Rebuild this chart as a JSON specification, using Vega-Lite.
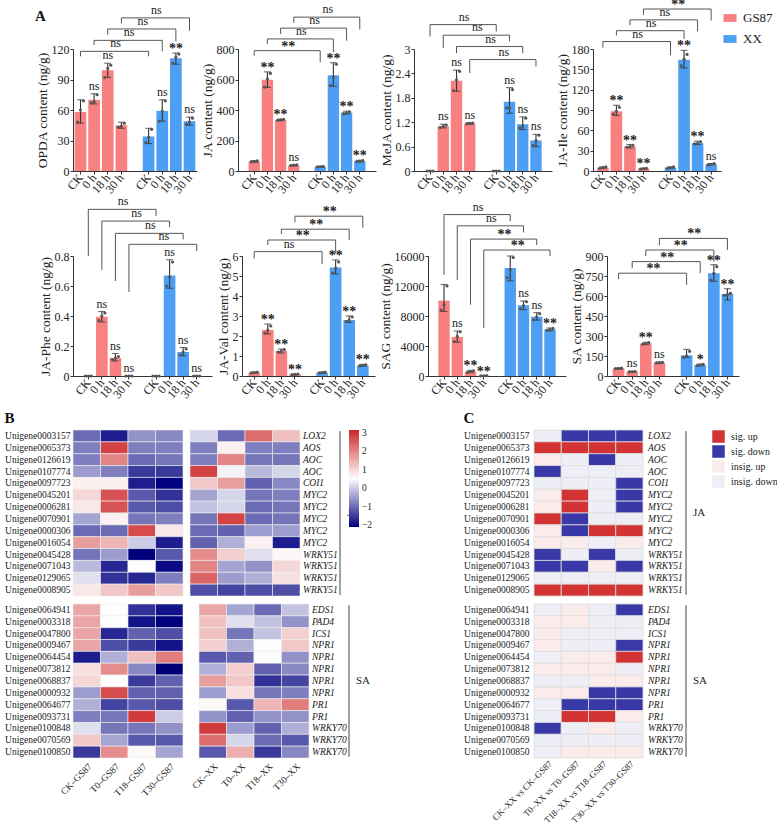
{
"$schema":"https://vega.github.io/schema/vega-lite/v6.json",
"padding":{"left":4,"top":-2,"right":2,"bottom":0},
"background":"white",
"config":{"font":"Liberation Serif","view":{"stroke":null},
"axis":{"labelFont":"Liberation Serif","titleFont":"Liberation Serif","labelColor":"#222","titleColor":"#222","domainColor":"#333","tickColor":"#333","titleFontWeight":"normal","grid":false,"labelFontSize":12,"titleFontSize":13.5},
"legend":{"labelFont":"Liberation Serif","labelColor":"#222"},
"title":{"font":"Liberation Serif","fontSize":15,"fontWeight":"bold","anchor":"start","color":"#111"}},
"datasets":{
"b1":[{"k":"GS87|CK","g":"GS87","mean":58,"lo":47,"hi":70,"r1":48,"r2":60,"r3":69,"sig":""},{"k":"GS87|0 h","g":"GS87","mean":70,"lo":66,"hi":76,"r1":67,"r2":68,"r3":75,"sig":"ns"},{"k":"GS87|18 h","g":"GS87","mean":99,"lo":92,"hi":106,"r1":92,"r2":101,"r3":104,"sig":"ns"},{"k":"GS87|30 h","g":"GS87","mean":45,"lo":42,"hi":48,"r1":43,"r2":44,"r3":47,"sig":""},{"k":"XX|CK","g":"XX","mean":34,"lo":27,"hi":42,"r1":28,"r2":33,"r3":41,"sig":""},{"k":"XX|0 h","g":"XX","mean":59,"lo":49,"hi":70,"r1":49,"r2":59,"r3":69,"sig":"ns"},{"k":"XX|18 h","g":"XX","mean":111,"lo":105,"hi":116,"r1":106,"r2":112,"r3":115,"sig":"**"},{"k":"XX|30 h","g":"XX","mean":49,"lo":45,"hi":53,"r1":46,"r2":48,"r3":52,"sig":"ns"}],
"k1":[{"a":"GS87|CK","b":"XX|CK","m":"GS87|30 h","top":117.7,"yl":112.8,"yr":112.8,"lab":"ns"},{"a":"GS87|0 h","b":"XX|0 h","m":"gap","top":128.5,"yl":124,"yr":117.7,"lab":"ns"},{"a":"GS87|18 h","b":"XX|18 h","m":"XX|CK","top":139.7,"yl":134,"yr":127.6,"lab":"ns"},{"a":"GS87|30 h","b":"XX|30 h","m":"XX|0 h","top":150.6,"yl":145,"yr":138,"lab":"ns"}],
"b2":[{"k":"GS87|CK","g":"GS87","mean":63,"lo":58,"hi":68,"r1":60,"r2":63,"r3":66,"sig":""},{"k":"GS87|0 h","g":"GS87","mean":598,"lo":548,"hi":650,"r1":550,"r2":605,"r3":640,"sig":"**"},{"k":"GS87|18 h","g":"GS87","mean":335,"lo":330,"hi":340,"r1":332,"r2":335,"r3":338,"sig":"**"},{"k":"GS87|30 h","g":"GS87","mean":38,"lo":34,"hi":42,"r1":36,"r2":38,"r3":40,"sig":"ns"},{"k":"XX|CK","g":"XX","mean":28,"lo":24,"hi":32,"r1":26,"r2":28,"r3":30,"sig":""},{"k":"XX|0 h","g":"XX","mean":628,"lo":555,"hi":710,"r1":560,"r2":615,"r3":700,"sig":"**"},{"k":"XX|18 h","g":"XX","mean":382,"lo":374,"hi":392,"r1":376,"r2":380,"r3":388,"sig":"**"},{"k":"XX|30 h","g":"XX","mean":65,"lo":60,"hi":70,"r1":62,"r2":65,"r3":68,"sig":"**"}],
"k2":[{"a":"GS87|CK","b":"XX|CK","m":"GS87|30 h","top":789,"yl":756,"yr":712,"lab":"**"},{"a":"GS87|0 h","b":"XX|0 h","m":"gap","top":866,"yl":833,"yr":778,"lab":"ns"},{"a":"GS87|18 h","b":"XX|18 h","m":"XX|CK","top":937,"yl":899,"yr":855,"lab":"ns"},{"a":"GS87|30 h","b":"XX|30 h","m":"XX|0 h","top":1009,"yl":972,"yr":928,"lab":"ns"}],
"b3":[{"k":"GS87|CK","g":"GS87","mean":0,"lo":0,"hi":0,"r1":0,"r2":0,"r3":0,"sig":""},{"k":"GS87|0 h","g":"GS87","mean":1.1,"lo":1.06,"hi":1.15,"r1":1.07,"r2":1.1,"r3":1.13,"sig":"ns"},{"k":"GS87|18 h","g":"GS87","mean":2.22,"lo":1.96,"hi":2.48,"r1":1.98,"r2":2.24,"r3":2.45,"sig":"ns"},{"k":"GS87|30 h","g":"GS87","mean":1.17,"lo":1.15,"hi":1.19,"r1":1.16,"r2":1.17,"r3":1.18,"sig":"ns"},{"k":"XX|CK","g":"XX","mean":0,"lo":0,"hi":0,"r1":0,"r2":0,"r3":0,"sig":""},{"k":"XX|0 h","g":"XX","mean":1.7,"lo":1.42,"hi":2.05,"r1":1.55,"r2":1.55,"r3":2.0,"sig":"ns"},{"k":"XX|18 h","g":"XX","mean":1.15,"lo":1.02,"hi":1.33,"r1":1.06,"r2":1.1,"r3":1.3,"sig":"ns"},{"k":"XX|30 h","g":"XX","mean":0.75,"lo":0.6,"hi":0.9,"r1":0.63,"r2":0.75,"r3":0.88,"sig":"ns"}],
"k3":[{"a":"GS87|CK","b":"XX|CK","m":"GS87|30 h","top":3.6,"yl":3.31,"yr":3.43,"lab":"ns"},{"a":"GS87|0 h","b":"XX|0 h","m":"gap","top":3.34,"yl":3.02,"yr":3.19,"lab":"ns"},{"a":"GS87|18 h","b":"XX|18 h","m":"XX|CK","top":3.06,"yl":2.9,"yr":2.9,"lab":"ns"},{"a":"GS87|30 h","b":"XX|30 h","m":"XX|0 h","top":2.74,"yl":2.41,"yr":2.57,"lab":"ns"}],
"b4":[{"k":"GS87|CK","g":"GS87","mean":5,"lo":4,"hi":6,"r1":4,"r2":5,"r3":6,"sig":""},{"k":"GS87|0 h","g":"GS87","mean":88,"lo":82,"hi":97,"r1":84,"r2":88,"r3":94,"sig":"**"},{"k":"GS87|18 h","g":"GS87","mean":36,"lo":34,"hi":39,"r1":35,"r2":36,"r3":38,"sig":"**"},{"k":"GS87|30 h","g":"GS87","mean":3.5,"lo":3,"hi":4,"r1":3,"r2":3.5,"r3":4,"sig":"**"},{"k":"XX|CK","g":"XX","mean":5,"lo":4,"hi":6,"r1":4,"r2":5,"r3":6,"sig":""},{"k":"XX|0 h","g":"XX","mean":164,"lo":152,"hi":178,"r1":155,"r2":165,"r3":172,"sig":"**"},{"k":"XX|18 h","g":"XX","mean":41,"lo":39,"hi":44,"r1":40,"r2":41,"r3":43,"sig":"**"},{"k":"XX|30 h","g":"XX","mean":10,"lo":9,"hi":11,"r1":9,"r2":10,"r3":11,"sig":"ns"}],
"k4":[{"a":"GS87|CK","b":"XX|CK","m":"GS87|30 h","top":191,"yl":182,"yr":171,"lab":"ns"},{"a":"GS87|0 h","b":"XX|0 h","m":"gap","top":207,"yl":200,"yr":195,"lab":"ns"},{"a":"GS87|18 h","b":"XX|18 h","m":"XX|CK","top":223,"yl":215,"yr":206,"lab":"ns"},{"a":"GS87|30 h","b":"XX|30 h","m":"XX|0 h","top":239,"yl":230.5,"yr":222,"lab":"**"}],
"b5":[{"k":"GS87|CK","g":"GS87","mean":0,"lo":0,"hi":0,"r1":0,"r2":0,"r3":0,"sig":""},{"k":"GS87|0 h","g":"GS87","mean":0.395,"lo":0.36,"hi":0.43,"r1":0.37,"r2":0.4,"r3":0.42,"sig":"ns"},{"k":"GS87|18 h","g":"GS87","mean":0.12,"lo":0.1,"hi":0.15,"r1":0.11,"r2":0.12,"r3":0.13,"sig":"ns"},{"k":"GS87|30 h","g":"GS87","mean":0,"lo":0,"hi":0,"r1":0,"r2":0,"r3":0,"sig":"ns"},{"k":"XX|CK","g":"XX","mean":0,"lo":0,"hi":0,"r1":0,"r2":0,"r3":0,"sig":""},{"k":"XX|0 h","g":"XX","mean":0.67,"lo":0.585,"hi":0.775,"r1":0.6,"r2":0.66,"r3":0.76,"sig":"ns"},{"k":"XX|18 h","g":"XX","mean":0.16,"lo":0.135,"hi":0.19,"r1":0.14,"r2":0.16,"r3":0.18,"sig":"ns"},{"k":"XX|30 h","g":"XX","mean":0,"lo":0,"hi":0,"r1":0,"r2":0,"r3":0,"sig":"ns"}],
"k5":[{"a":"GS87|CK","b":"XX|CK","m":"GS87|30 h","top":1.111,"yl":0.8,"yr":1.067,"lab":"ns"},{"a":"GS87|0 h","b":"XX|0 h","m":"gap","top":1.033,"yl":0.707,"yr":0.993,"lab":"ns"},{"a":"GS87|18 h","b":"XX|18 h","m":"XX|CK","top":0.951,"yl":0.633,"yr":0.911,"lab":"ns"},{"a":"GS87|30 h","b":"XX|30 h","m":"XX|0 h","top":0.878,"yl":0.56,"yr":0.833,"lab":"ns"}],
"b6":[{"k":"GS87|CK","g":"GS87","mean":0.17,"lo":0.14,"hi":0.2,"r1":0.15,"r2":0.17,"r3":0.19,"sig":""},{"k":"GS87|0 h","g":"GS87","mean":2.3,"lo":2.1,"hi":2.6,"r1":2.15,"r2":2.3,"r3":2.5,"sig":"**"},{"k":"GS87|18 h","g":"GS87","mean":1.25,"lo":1.15,"hi":1.35,"r1":1.2,"r2":1.25,"r3":1.32,"sig":"**"},{"k":"GS87|30 h","g":"GS87","mean":0.08,"lo":0.06,"hi":0.1,"r1":0.06,"r2":0.08,"r3":0.1,"sig":"**"},{"k":"XX|CK","g":"XX","mean":0.17,"lo":0.14,"hi":0.2,"r1":0.15,"r2":0.17,"r3":0.19,"sig":""},{"k":"XX|0 h","g":"XX","mean":5.42,"lo":5.1,"hi":5.8,"r1":5.15,"r2":5.4,"r3":5.7,"sig":"**"},{"k":"XX|18 h","g":"XX","mean":2.8,"lo":2.68,"hi":3.0,"r1":2.72,"r2":2.8,"r3":2.95,"sig":"**"},{"k":"XX|30 h","g":"XX","mean":0.53,"lo":0.5,"hi":0.58,"r1":0.51,"r2":0.53,"r3":0.56,"sig":"**"}],
"k6":[{"a":"GS87|CK","b":"XX|CK","m":"GS87|30 h","top":6.22,"yl":5.88,"yr":5.6,"lab":"ns"},{"a":"GS87|0 h","b":"XX|0 h","m":"gap","top":6.8,"yl":6.55,"yr":6.13,"lab":"**"},{"a":"GS87|18 h","b":"XX|18 h","m":"XX|CK","top":7.34,"yl":7.1,"yr":6.8,"lab":"**"},{"a":"GS87|30 h","b":"XX|30 h","m":"XX|0 h","top":7.99,"yl":7.7,"yr":7.42,"lab":"**"}],
"b7":[{"k":"GS87|CK","g":"GS87","mean":10050,"lo":8600,"hi":12200,"r1":8800,"r2":9500,"r3":12000,"sig":""},{"k":"GS87|0 h","g":"GS87","mean":5200,"lo":4500,"hi":6000,"r1":4600,"r2":5300,"r3":5900,"sig":"ns"},{"k":"GS87|18 h","g":"GS87","mean":580,"lo":450,"hi":750,"r1":480,"r2":600,"r3":700,"sig":"**"},{"k":"GS87|30 h","g":"GS87","mean":30,"lo":20,"hi":40,"r1":20,"r2":30,"r3":40,"sig":"**"},{"k":"XX|CK","g":"XX","mean":14400,"lo":12700,"hi":16000,"r1":13100,"r2":14200,"r3":15800,"sig":""},{"k":"XX|0 h","g":"XX","mean":9450,"lo":8850,"hi":10000,"r1":9000,"r2":9400,"r3":9900,"sig":"ns"},{"k":"XX|18 h","g":"XX","mean":7900,"lo":7450,"hi":8450,"r1":7500,"r2":7900,"r3":8300,"sig":"ns"},{"k":"XX|30 h","g":"XX","mean":6200,"lo":6000,"hi":6400,"r1":6100,"r2":6200,"r3":6350,"sig":"**"}],
"k7":[{"a":"GS87|CK","b":"XX|CK","m":"GS87|30 h","top":21525,"yl":13481,"yr":20641,"lab":"ns"},{"a":"GS87|0 h","b":"XX|0 h","m":"gap","top":20022,"yl":12818,"yr":19138,"lab":"ns"},{"a":"GS87|18 h","b":"XX|18 h","m":"XX|CK","top":18254,"yl":9503,"yr":17464,"lab":"**"},{"a":"GS87|30 h","b":"XX|30 h","m":"XX|0 h","top":16796,"yl":6409,"yr":16000,"lab":"**"}],
"b8":[{"k":"GS87|CK","g":"GS87","mean":57,"lo":54,"hi":60,"r1":55,"r2":57,"r3":59,"sig":""},{"k":"GS87|0 h","g":"GS87","mean":32,"lo":30,"hi":36,"r1":31,"r2":32,"r3":34,"sig":"ns"},{"k":"GS87|18 h","g":"GS87","mean":244,"lo":235,"hi":252,"r1":238,"r2":245,"r3":250,"sig":"**"},{"k":"GS87|30 h","g":"GS87","mean":100,"lo":97,"hi":103,"r1":98,"r2":100,"r3":102,"sig":"ns"},{"k":"XX|CK","g":"XX","mean":155,"lo":140,"hi":200,"r1":140,"r2":150,"r3":185,"sig":""},{"k":"XX|0 h","g":"XX","mean":82,"lo":77,"hi":90,"r1":79,"r2":82,"r3":87,"sig":"*"},{"k":"XX|18 h","g":"XX","mean":770,"lo":710,"hi":835,"r1":720,"r2":770,"r3":820,"sig":"**"},{"k":"XX|30 h","g":"XX","mean":615,"lo":570,"hi":655,"r1":605,"r2":612,"r3":620,"sig":"**"}],
"k8":[{"a":"GS87|CK","b":"XX|CK","m":"GS87|30 h","top":771,"yl":726,"yr":684,"lab":"**"},{"a":"GS87|0 h","b":"XX|0 h","m":"gap","top":858,"yl":808,"yr":771,"lab":"**"},{"a":"GS87|18 h","b":"XX|18 h","m":"XX|CK","top":945,"yl":900,"yr":858,"lab":"**"},{"a":"GS87|30 h","b":"XX|30 h","m":"XX|0 h","top":1032,"yl":980,"yr":945,"lab":"**"}],
"genes":[
{"id":"Unigene0003157","gene":"LOX2","p":"JA","CK–GS87":-1,"T0–GS87":-1.8,"T18–GS87":-0.6,"T30–GS87":-0.7,"CK–XX":0.1,"T0–XX":-1,"T18–XX":2.3,"T30–XX":1.3,"CK–XX vs CK–GS87":"insig. down","T0–XX vs T0–GS87":"sig. down","T18–XX vs T18–GS87":"sig. down","T30–XX vs T30–GS87":"sig. down"},
{"id":"Unigene0065373","gene":"AOS","p":"JA","CK–GS87":-0.8,"T0–GS87":2.8,"T18–GS87":-0.8,"T30–GS87":-0.8,"CK–XX":-0.8,"T0–XX":0.7,"T18–XX":-0.8,"T30–XX":-0.8,"CK–XX vs CK–GS87":"sig. up","T0–XX vs T0–GS87":"sig. up","T18–XX vs T18–GS87":"sig. up","T30–XX vs T30–GS87":"sig. up"},
{"id":"Unigene0126619","gene":"AOC","p":"JA","CK–GS87":-0.8,"T0–GS87":2,"T18–GS87":-1,"T30–GS87":-0.9,"CK–XX":-0.8,"T0–XX":2,"T18–XX":-0.9,"T30–XX":-0.9,"CK–XX vs CK–GS87":"insig. up","T0–XX vs T0–GS87":"insig. down","T18–XX vs T18–GS87":"sig. down","T30–XX vs T30–GS87":"insig. down"},
{"id":"Unigene0107774","gene":"AOC","p":"JA","CK–GS87":-0.5,"T0–GS87":-0.8,"T18–GS87":-1.5,"T30–GS87":-1.5,"CK–XX":2.8,"T0–XX":0.4,"T18–XX":-0.2,"T30–XX":0.1,"CK–XX vs CK–GS87":"sig. down","T0–XX vs T0–GS87":"insig. down","T18–XX vs T18–GS87":"insig. down","T30–XX vs T30–GS87":"insig. down"},
{"id":"Unigene0097723","gene":"COI1","p":"JA","CK–GS87":0.7,"T0–GS87":0.7,"T18–GS87":-1.8,"T30–GS87":-2.1,"CK–XX":1.2,"T0–XX":1.7,"T18–XX":-1.1,"T30–XX":-0.7,"CK–XX vs CK–GS87":"insig. down","T0–XX vs T0–GS87":"insig. down","T18–XX vs T18–GS87":"insig. down","T30–XX vs T30–GS87":"sig. down"},
{"id":"Unigene0045201","gene":"MYC2","p":"JA","CK–GS87":1,"T0–GS87":2.6,"T18–GS87":-1.2,"T30–GS87":-1.6,"CK–XX":-0.4,"T0–XX":0.1,"T18–XX":-0.9,"T30–XX":-0.8,"CK–XX vs CK–GS87":"insig. up","T0–XX vs T0–GS87":"sig. up","T18–XX vs T18–GS87":"insig. down","T30–XX vs T30–GS87":"sig. down"},
{"id":"Unigene0006281","gene":"MYC2","p":"JA","CK–GS87":0.8,"T0–GS87":2.6,"T18–GS87":-1.2,"T30–GS87":-1.3,"CK–XX":-0.1,"T0–XX":0.1,"T18–XX":-1,"T30–XX":-0.9,"CK–XX vs CK–GS87":"insig. up","T0–XX vs T0–GS87":"sig. up","T18–XX vs T18–GS87":"insig. down","T30–XX vs T30–GS87":"sig. down"},
{"id":"Unigene0070901","gene":"MYC2","p":"JA","CK–GS87":-0.4,"T0–GS87":0.7,"T18–GS87":-0.9,"T30–GS87":-0.8,"CK–XX":-0.9,"T0–XX":2.8,"T18–XX":-1,"T30–XX":-0.9,"CK–XX vs CK–GS87":"sig. up","T0–XX vs T0–GS87":"sig. down","T18–XX vs T18–GS87":"insig. down","T30–XX vs T30–GS87":"insig. down"},
{"id":"Unigene0000306","gene":"MYC2","p":"JA","CK–GS87":-1,"T0–GS87":-1,"T18–GS87":2.7,"T30–GS87":0.8,"CK–XX":-1,"T0–XX":-1.1,"T18–XX":-0.5,"T30–XX":-0.5,"CK–XX vs CK–GS87":"insig. up","T0–XX vs T0–GS87":"sig. down","T18–XX vs T18–GS87":"sig. up","T30–XX vs T30–GS87":"sig. up"},
{"id":"Unigene0016054","gene":"MYC2","p":"JA","CK–GS87":1.7,"T0–GS87":1.4,"T18–GS87":0,"T30–GS87":-1.8,"CK–XX":-1.1,"T0–XX":-0.3,"T18–XX":0.7,"T30–XX":-1.8,"CK–XX vs CK–GS87":"insig. up","T0–XX vs T0–GS87":"insig. up","T18–XX vs T18–GS87":"insig. down","T30–XX vs T30–GS87":"insig. up"},
{"id":"Unigene0045428","gene":"WRKY51","p":"JA","CK–GS87":-0.9,"T0–GS87":-0.5,"T18–GS87":-2.2,"T30–GS87":-1.2,"CK–XX":1.9,"T0–XX":1.1,"T18–XX":0.2,"T30–XX":0.6,"CK–XX vs CK–GS87":"sig. down","T0–XX vs T0–GS87":"insig. down","T18–XX vs T18–GS87":"sig. down","T30–XX vs T30–GS87":"insig. down"},
{"id":"Unigene0071043","gene":"WRKY51","p":"JA","CK–GS87":-0.2,"T0–GS87":-1.7,"T18–GS87":0.55,"T30–GS87":-2,"CK–XX":2,"T0–XX":-0.4,"T18–XX":-0.6,"T30–XX":1,"CK–XX vs CK–GS87":"sig. down","T0–XX vs T0–GS87":"sig. down","T18–XX vs T18–GS87":"insig. up","T30–XX vs T30–GS87":"sig. down"},
{"id":"Unigene0129065","gene":"WRKY51","p":"JA","CK–GS87":0.2,"T0–GS87":-1.6,"T18–GS87":-1.7,"T30–GS87":-0.8,"CK–XX":2.4,"T0–XX":-0.5,"T18–XX":-0.3,"T30–XX":0.9,"CK–XX vs CK–GS87":"insig. down","T0–XX vs T0–GS87":"insig. down","T18–XX vs T18–GS87":"insig. down","T30–XX vs T30–GS87":"insig. down"},
{"id":"Unigene0008905","gene":"WRKY51","p":"JA","CK–GS87":0.8,"T0–GS87":1.2,"T18–GS87":1.7,"T30–GS87":1.2,"CK–XX":-1.3,"T0–XX":-1.4,"T18–XX":-1.3,"T30–XX":-1.3,"CK–XX vs CK–GS87":"sig. up","T0–XX vs T0–GS87":"sig. up","T18–XX vs T18–GS87":"sig. up","T30–XX vs T30–GS87":"sig. up"},
{"id":"Unigene0064941","gene":"EDS1","p":"SA","CK–GS87":1.6,"T0–GS87":0.5,"T18–GS87":-1.6,"T30–GS87":-1.9,"CK–XX":1.6,"T0–XX":-0.4,"T18–XX":-1,"T30–XX":-0.1,"CK–XX vs CK–GS87":"insig. down","T0–XX vs T0–GS87":"insig. up","T18–XX vs T18–GS87":"insig. down","T30–XX vs T30–GS87":"sig. down"},
{"id":"Unigene0003318","gene":"PAD4","p":"SA","CK–GS87":1.6,"T0–GS87":0.5,"T18–GS87":-1.9,"T30–GS87":-2.2,"CK–XX":1.3,"T0–XX":0.2,"T18–XX":-0.1,"T30–XX":-0.6,"CK–XX vs CK–GS87":"insig. up","T0–XX vs T0–GS87":"insig. up","T18–XX vs T18–GS87":"insig. down","T30–XX vs T30–GS87":"insig. down"},
{"id":"Unigene0047800","gene":"ICS1","p":"SA","CK–GS87":1.6,"T0–GS87":-1.7,"T18–GS87":-1.1,"T30–GS87":-1.3,"CK–XX":1.3,"T0–XX":-0.9,"T18–XX":-0.1,"T30–XX":1.1,"CK–XX vs CK–GS87":"insig. up","T0–XX vs T0–GS87":"insig. down","T18–XX vs T18–GS87":"insig. down","T30–XX vs T30–GS87":"insig. down"},
{"id":"Unigene0009467","gene":"NPR1","p":"SA","CK–GS87":1.6,"T0–GS87":-1.3,"T18–GS87":-1.5,"T30–GS87":-1.9,"CK–XX":1.1,"T0–XX":-0.3,"T18–XX":0.55,"T30–XX":1.2,"CK–XX vs CK–GS87":"insig. up","T0–XX vs T0–GS87":"insig. down","T18–XX vs T18–GS87":"insig. down","T30–XX vs T30–GS87":"sig. down"},
{"id":"Unigene0064454","gene":"NPR1","p":"SA","CK–GS87":-1.8,"T0–GS87":-0.3,"T18–GS87":1.3,"T30–GS87":2.1,"CK–XX":-1.2,"T0–XX":-1.1,"T18–XX":0.55,"T30–XX":-0.6,"CK–XX vs CK–GS87":"insig. down","T0–XX vs T0–GS87":"insig. up","T18–XX vs T18–GS87":"insig. up","T30–XX vs T30–GS87":"sig. up"},
{"id":"Unigene0073812","gene":"NPR1","p":"SA","CK–GS87":0.9,"T0–GS87":1.9,"T18–GS87":-0.7,"T30–GS87":-2.3,"CK–XX":-0.3,"T0–XX":1.1,"T18–XX":-1.1,"T30–XX":-0.7,"CK–XX vs CK–GS87":"insig. up","T0–XX vs T0–GS87":"insig. up","T18–XX vs T18–GS87":"insig. up","T30–XX vs T30–GS87":"insig. down"},
{"id":"Unigene0068837","gene":"NPR1","p":"SA","CK–GS87":1,"T0–GS87":0.5,"T18–GS87":-1.5,"T30–GS87":-1.1,"CK–XX":1.7,"T0–XX":1.2,"T18–XX":-1.6,"T30–XX":-1.4,"CK–XX vs CK–GS87":"insig. down","T0–XX vs T0–GS87":"insig. down","T18–XX vs T18–GS87":"insig. up","T30–XX vs T30–GS87":"insig. up"},
{"id":"Unigene0000932","gene":"NPR1","p":"SA","CK–GS87":-0.5,"T0–GS87":2.7,"T18–GS87":-1.1,"T30–GS87":-1.1,"CK–XX":-0.5,"T0–XX":0.9,"T18–XX":-0.9,"T30–XX":-0.8,"CK–XX vs CK–GS87":"insig. up","T0–XX vs T0–GS87":"insig. up","T18–XX vs T18–GS87":"sig. down","T30–XX vs T30–GS87":"sig. down"},
{"id":"Unigene0064677","gene":"PR1","p":"SA","CK–GS87":-0.3,"T0–GS87":-1.4,"T18–GS87":-1.2,"T30–GS87":-1.3,"CK–XX":0.6,"T0–XX":-1.2,"T18–XX":1.4,"T30–XX":2.1,"CK–XX vs CK–GS87":"insig. down","T0–XX vs T0–GS87":"sig. down","T18–XX vs T18–GS87":"sig. down","T30–XX vs T30–GS87":"sig. down"},
{"id":"Unigene0093731","gene":"PR1","p":"SA","CK–GS87":-0.8,"T0–GS87":-0.9,"T18–GS87":2.9,"T30–GS87":0,"CK–XX":-0.6,"T0–XX":-1.1,"T18–XX":-0.6,"T30–XX":-0.6,"CK–XX vs CK–GS87":"insig. down","T0–XX vs T0–GS87":"sig. up","T18–XX vs T18–GS87":"sig. up","T30–XX vs T30–GS87":"insig. up"},
{"id":"Unigene0100848","gene":"WRKY70","p":"SA","CK–GS87":0.2,"T0–GS87":-0.9,"T18–GS87":-0.9,"T30–GS87":-0.6,"CK–XX":2.9,"T0–XX":-0.5,"T18–XX":-1.1,"T30–XX":-0.3,"CK–XX vs CK–GS87":"sig. down","T0–XX vs T0–GS87":"insig. down","T18–XX vs T18–GS87":"insig. up","T30–XX vs T30–GS87":"insig. down"},
{"id":"Unigene0070569","gene":"WRKY70","p":"SA","CK–GS87":1.2,"T0–GS87":-0.4,"T18–GS87":-1.2,"T30–GS87":-1.2,"CK–XX":2.3,"T0–XX":0.1,"T18–XX":-1,"T30–XX":-1.2,"CK–XX vs CK–GS87":"insig. down","T0–XX vs T0–GS87":"insig. down","T18–XX vs T18–GS87":"insig. down","T30–XX vs T30–GS87":"insig. down"},
{"id":"Unigene0100850","gene":"WRKY70","p":"SA","CK–GS87":-1.5,"T0–GS87":1.9,"T18–GS87":0.6,"T30–GS87":-0.4,"CK–XX":-1.2,"T0–XX":1.5,"T18–XX":-1.5,"T30–XX":-0.7,"CK–XX vs CK–GS87":"insig. down","T0–XX vs T0–GS87":"insig. up","T18–XX vs T18–GS87":"insig. up","T30–XX vs T30–GS87":"insig. up"}
]},
"resolve":{"scale":{"color":"independent"}},
"align":"none",
"spacing":10,
"vconcat":[
{"align":"none","spacing":0,"resolve":{"scale":{"color":"independent"}},"vconcat":[
{"title":{"text":"A","offset":-26},"spacing":3,"resolve":{"scale":{"color":"independent"}},"hconcat":[
{"width":124,"height":122,"data":{"name":"b1"},"layer":[
{"mark":{"type":"bar"},"encoding":{"x":{"field":"k","type":"nominal","scale":{"domain":["GS87|CK","GS87|0 h","GS87|18 h","GS87|30 h","gap","XX|CK","XX|0 h","XX|18 h","XX|30 h"],"paddingInner":0.14,"paddingOuter":0.12},"axis":{"title":null,"labelExpr":"indexof(datum.value,'|')>0 ? split(datum.value,'|')[1] : ''","labelAngle":-50,"labelFontSize":12,"tickSize":3,"tickOpacity":{"condition":{"test":"datum.value==='gap'","value":0},"value":1},"labelPadding":1}},"y":{"field":"mean","type":"quantitative","scale":{"domain":[0,120],"nice":false},"axis":{"title":"OPDA content (ng/g)","values":[0,30,60,90,120],"tickCount":20,"labelExpr":"''+datum.value","labelOverlap":false,"tickSize":3,"labelPadding":1,"titlePadding":2}},"color":{"field":"g","type":"nominal","scale":{"domain":["GS87","XX"],"range":["#F88080","#4C9FF2"]},"legend":null}}},
{"mark":{"type":"rule","color":"#333","strokeWidth":1.1},"encoding":{"x":{"field":"k","type":"nominal"},"y":{"field":"lo","type":"quantitative"},"y2":{"field":"hi"}}},
{"mark":{"type":"tick","color":"#333","thickness":1.1,"size":7},"encoding":{"x":{"field":"k","type":"nominal"},"y":{"field":"lo","type":"quantitative"}}},
{"mark":{"type":"tick","color":"#333","thickness":1.1,"size":7},"encoding":{"x":{"field":"k","type":"nominal"},"y":{"field":"hi","type":"quantitative"}}},
{"mark":{"type":"circle","size":10,"color":"#555","opacity":1,"xOffset":-3},"encoding":{"x":{"field":"k","type":"nominal"},"y":{"field":"r1","type":"quantitative"}}},
{"mark":{"type":"circle","size":10,"color":"#555","opacity":1},"encoding":{"x":{"field":"k","type":"nominal"},"y":{"field":"r2","type":"quantitative"}}},
{"mark":{"type":"circle","size":10,"color":"#555","opacity":1,"xOffset":3},"encoding":{"x":{"field":"k","type":"nominal"},"y":{"field":"r3","type":"quantitative"}}},
{"transform":[{"filter":"datum.sig==='ns'"}],"mark":{"type":"text","baseline":"bottom","dy":-1,"fontSize":12,"color":"#222"},"encoding":{"x":{"field":"k","type":"nominal"},"y":{"field":"hi","type":"quantitative"},"text":{"field":"sig"}}},
{"transform":[{"filter":"datum.sig!=='ns'"}],"mark":{"type":"text","baseline":"bottom","dy":3,"fontSize":14,"fontWeight":"bold","color":"#222"},"encoding":{"x":{"field":"k","type":"nominal"},"y":{"field":"hi","type":"quantitative"},"text":{"field":"sig"}}},
{"data":{"name":"k1"},"mark":{"type":"rule","color":"#555","clip":false},"encoding":{"x":{"field":"a","type":"nominal","bandPosition":0.5},"x2":{"field":"b","bandPosition":0.5},"y":{"field":"top","type":"quantitative"}}},
{"data":{"name":"k1"},"mark":{"type":"rule","color":"#555","clip":false},"encoding":{"x":{"field":"a","type":"nominal"},"y":{"field":"top","type":"quantitative"},"y2":{"field":"yl"}}},
{"data":{"name":"k1"},"mark":{"type":"rule","color":"#555","clip":false},"encoding":{"x":{"field":"b","type":"nominal"},"y":{"field":"top","type":"quantitative"},"y2":{"field":"yr"}}},
{"data":{"name":"k1"},"transform":[{"filter":"datum.lab==='ns'"}],"mark":{"type":"text","baseline":"bottom","dy":-1,"fontSize":12,"color":"#222"},"encoding":{"x":{"field":"m","type":"nominal","bandPosition":0},"y":{"field":"top","type":"quantitative"},"text":{"field":"lab"}}},
{"data":{"name":"k1"},"transform":[{"filter":"datum.lab!=='ns'"}],"mark":{"type":"text","baseline":"bottom","dy":3,"fontSize":14,"fontWeight":"bold","color":"#222"},"encoding":{"x":{"field":"m","type":"nominal","bandPosition":0},"y":{"field":"top","type":"quantitative"},"text":{"field":"lab"}}}
]},
{"width":138,"height":122,"data":{"name":"b2"},"layer":[
{"mark":{"type":"bar"},"encoding":{"x":{"field":"k","type":"nominal","scale":{"domain":["GS87|CK","GS87|0 h","GS87|18 h","GS87|30 h","gap","XX|CK","XX|0 h","XX|18 h","XX|30 h"],"paddingInner":0.14,"paddingOuter":0.8},"axis":{"title":null,"labelExpr":"indexof(datum.value,'|')>0 ? split(datum.value,'|')[1] : ''","labelAngle":-50,"labelFontSize":12,"tickSize":3,"tickOpacity":{"condition":{"test":"datum.value==='gap'","value":0},"value":1},"labelPadding":1}},"y":{"field":"mean","type":"quantitative","scale":{"domain":[0,800],"nice":false},"axis":{"title":"JA content (ng/g)","values":[0,200,400,600,800],"tickCount":20,"labelExpr":"''+datum.value","labelOverlap":false,"tickSize":3,"labelPadding":1,"titlePadding":2}},"color":{"field":"g","type":"nominal","scale":{"domain":["GS87","XX"],"range":["#F88080","#4C9FF2"]},"legend":null}}},
{"mark":{"type":"rule","color":"#333","strokeWidth":1.1},"encoding":{"x":{"field":"k","type":"nominal"},"y":{"field":"lo","type":"quantitative"},"y2":{"field":"hi"}}},
{"mark":{"type":"tick","color":"#333","thickness":1.1,"size":7},"encoding":{"x":{"field":"k","type":"nominal"},"y":{"field":"lo","type":"quantitative"}}},
{"mark":{"type":"tick","color":"#333","thickness":1.1,"size":7},"encoding":{"x":{"field":"k","type":"nominal"},"y":{"field":"hi","type":"quantitative"}}},
{"mark":{"type":"circle","size":10,"color":"#555","opacity":1,"xOffset":-3},"encoding":{"x":{"field":"k","type":"nominal"},"y":{"field":"r1","type":"quantitative"}}},
{"mark":{"type":"circle","size":10,"color":"#555","opacity":1},"encoding":{"x":{"field":"k","type":"nominal"},"y":{"field":"r2","type":"quantitative"}}},
{"mark":{"type":"circle","size":10,"color":"#555","opacity":1,"xOffset":3},"encoding":{"x":{"field":"k","type":"nominal"},"y":{"field":"r3","type":"quantitative"}}},
{"transform":[{"filter":"datum.sig==='ns'"}],"mark":{"type":"text","baseline":"bottom","dy":-1,"fontSize":12,"color":"#222"},"encoding":{"x":{"field":"k","type":"nominal"},"y":{"field":"hi","type":"quantitative"},"text":{"field":"sig"}}},
{"transform":[{"filter":"datum.sig!=='ns'"}],"mark":{"type":"text","baseline":"bottom","dy":3,"fontSize":14,"fontWeight":"bold","color":"#222"},"encoding":{"x":{"field":"k","type":"nominal"},"y":{"field":"hi","type":"quantitative"},"text":{"field":"sig"}}},
{"data":{"name":"k2"},"mark":{"type":"rule","color":"#555","clip":false},"encoding":{"x":{"field":"a","type":"nominal","bandPosition":0.5},"x2":{"field":"b","bandPosition":0.5},"y":{"field":"top","type":"quantitative"}}},
{"data":{"name":"k2"},"mark":{"type":"rule","color":"#555","clip":false},"encoding":{"x":{"field":"a","type":"nominal"},"y":{"field":"top","type":"quantitative"},"y2":{"field":"yl"}}},
{"data":{"name":"k2"},"mark":{"type":"rule","color":"#555","clip":false},"encoding":{"x":{"field":"b","type":"nominal"},"y":{"field":"top","type":"quantitative"},"y2":{"field":"yr"}}},
{"data":{"name":"k2"},"transform":[{"filter":"datum.lab==='ns'"}],"mark":{"type":"text","baseline":"bottom","dy":-1,"fontSize":12,"color":"#222"},"encoding":{"x":{"field":"m","type":"nominal","bandPosition":0},"y":{"field":"top","type":"quantitative"},"text":{"field":"lab"}}},
{"data":{"name":"k2"},"transform":[{"filter":"datum.lab!=='ns'"}],"mark":{"type":"text","baseline":"bottom","dy":3,"fontSize":14,"fontWeight":"bold","color":"#222"},"encoding":{"x":{"field":"m","type":"nominal","bandPosition":0},"y":{"field":"top","type":"quantitative"},"text":{"field":"lab"}}}
]},
{"width":138,"height":122,"data":{"name":"b3"},"layer":[
{"mark":{"type":"bar"},"encoding":{"x":{"field":"k","type":"nominal","scale":{"domain":["GS87|CK","GS87|0 h","GS87|18 h","GS87|30 h","gap","XX|CK","XX|0 h","XX|18 h","XX|30 h"],"paddingInner":0.14,"paddingOuter":0.78},"axis":{"title":null,"labelExpr":"indexof(datum.value,'|')>0 ? split(datum.value,'|')[1] : ''","labelAngle":-50,"labelFontSize":12,"tickSize":3,"tickOpacity":{"condition":{"test":"datum.value==='gap'","value":0},"value":1},"labelPadding":1}},"y":{"field":"mean","type":"quantitative","scale":{"domain":[0,3],"nice":false},"axis":{"title":"MeJA content (ng/g)","values":[0,0.6,1.2,1.8,2.4,3],"tickCount":20,"labelExpr":"''+datum.value","labelOverlap":false,"tickSize":3,"labelPadding":1,"titlePadding":2}},"color":{"field":"g","type":"nominal","scale":{"domain":["GS87","XX"],"range":["#F88080","#4C9FF2"]},"legend":null}}},
{"mark":{"type":"rule","color":"#333","strokeWidth":1.1},"encoding":{"x":{"field":"k","type":"nominal"},"y":{"field":"lo","type":"quantitative"},"y2":{"field":"hi"}}},
{"mark":{"type":"tick","color":"#333","thickness":1.1,"size":7},"encoding":{"x":{"field":"k","type":"nominal"},"y":{"field":"lo","type":"quantitative"}}},
{"mark":{"type":"tick","color":"#333","thickness":1.1,"size":7},"encoding":{"x":{"field":"k","type":"nominal"},"y":{"field":"hi","type":"quantitative"}}},
{"mark":{"type":"circle","size":10,"color":"#555","opacity":1,"xOffset":-3},"encoding":{"x":{"field":"k","type":"nominal"},"y":{"field":"r1","type":"quantitative"}}},
{"mark":{"type":"circle","size":10,"color":"#555","opacity":1},"encoding":{"x":{"field":"k","type":"nominal"},"y":{"field":"r2","type":"quantitative"}}},
{"mark":{"type":"circle","size":10,"color":"#555","opacity":1,"xOffset":3},"encoding":{"x":{"field":"k","type":"nominal"},"y":{"field":"r3","type":"quantitative"}}},
{"transform":[{"filter":"datum.sig==='ns'"}],"mark":{"type":"text","baseline":"bottom","dy":-1,"fontSize":12,"color":"#222"},"encoding":{"x":{"field":"k","type":"nominal"},"y":{"field":"hi","type":"quantitative"},"text":{"field":"sig"}}},
{"transform":[{"filter":"datum.sig!=='ns'"}],"mark":{"type":"text","baseline":"bottom","dy":3,"fontSize":14,"fontWeight":"bold","color":"#222"},"encoding":{"x":{"field":"k","type":"nominal"},"y":{"field":"hi","type":"quantitative"},"text":{"field":"sig"}}},
{"data":{"name":"k3"},"mark":{"type":"rule","color":"#555","clip":false},"encoding":{"x":{"field":"a","type":"nominal","bandPosition":0.5},"x2":{"field":"b","bandPosition":0.5},"y":{"field":"top","type":"quantitative"}}},
{"data":{"name":"k3"},"mark":{"type":"rule","color":"#555","clip":false},"encoding":{"x":{"field":"a","type":"nominal"},"y":{"field":"top","type":"quantitative"},"y2":{"field":"yl"}}},
{"data":{"name":"k3"},"mark":{"type":"rule","color":"#555","clip":false},"encoding":{"x":{"field":"b","type":"nominal"},"y":{"field":"top","type":"quantitative"},"y2":{"field":"yr"}}},
{"data":{"name":"k3"},"transform":[{"filter":"datum.lab==='ns'"}],"mark":{"type":"text","baseline":"bottom","dy":-1,"fontSize":12,"color":"#222"},"encoding":{"x":{"field":"m","type":"nominal","bandPosition":0},"y":{"field":"top","type":"quantitative"},"text":{"field":"lab"}}},
{"data":{"name":"k3"},"transform":[{"filter":"datum.lab!=='ns'"}],"mark":{"type":"text","baseline":"bottom","dy":3,"fontSize":14,"fontWeight":"bold","color":"#222"},"encoding":{"x":{"field":"m","type":"nominal","bandPosition":0},"y":{"field":"top","type":"quantitative"},"text":{"field":"lab"}}}
]},
{"width":128,"height":122,"data":{"name":"b4"},"layer":[
{"mark":{"type":"bar"},"encoding":{"x":{"field":"k","type":"nominal","scale":{"domain":["GS87|CK","GS87|0 h","GS87|18 h","GS87|30 h","gap","XX|CK","XX|0 h","XX|18 h","XX|30 h"],"paddingInner":0.14,"paddingOuter":0.3},"axis":{"title":null,"labelExpr":"indexof(datum.value,'|')>0 ? split(datum.value,'|')[1] : ''","labelAngle":-50,"labelFontSize":12,"tickSize":3,"tickOpacity":{"condition":{"test":"datum.value==='gap'","value":0},"value":1},"labelPadding":1}},"y":{"field":"mean","type":"quantitative","scale":{"domain":[0,180],"nice":false},"axis":{"title":"JA-Ile content (ng/g)","values":[0,30,60,90,120,150,180],"tickCount":20,"labelExpr":"''+datum.value","labelOverlap":false,"tickSize":3,"labelPadding":1,"titlePadding":2}},"color":{"field":"g","type":"nominal","scale":{"domain":["GS87","XX"],"range":["#F88080","#4C9FF2"]},"legend":{"title":null,"orient":"none","legendX":130,"legendY":-38,"direction":"vertical","symbolType":"M-1,-0.6H1V0.6H-1Z","symbolSize":170,"labelFontSize":13,"rowPadding":7,"labelOffset":6,"symbolStrokeWidth":0}}}},
{"mark":{"type":"rule","color":"#333","strokeWidth":1.1},"encoding":{"x":{"field":"k","type":"nominal"},"y":{"field":"lo","type":"quantitative"},"y2":{"field":"hi"}}},
{"mark":{"type":"tick","color":"#333","thickness":1.1,"size":7},"encoding":{"x":{"field":"k","type":"nominal"},"y":{"field":"lo","type":"quantitative"}}},
{"mark":{"type":"tick","color":"#333","thickness":1.1,"size":7},"encoding":{"x":{"field":"k","type":"nominal"},"y":{"field":"hi","type":"quantitative"}}},
{"mark":{"type":"circle","size":10,"color":"#555","opacity":1,"xOffset":-3},"encoding":{"x":{"field":"k","type":"nominal"},"y":{"field":"r1","type":"quantitative"}}},
{"mark":{"type":"circle","size":10,"color":"#555","opacity":1},"encoding":{"x":{"field":"k","type":"nominal"},"y":{"field":"r2","type":"quantitative"}}},
{"mark":{"type":"circle","size":10,"color":"#555","opacity":1,"xOffset":3},"encoding":{"x":{"field":"k","type":"nominal"},"y":{"field":"r3","type":"quantitative"}}},
{"transform":[{"filter":"datum.sig==='ns'"}],"mark":{"type":"text","baseline":"bottom","dy":-1,"fontSize":12,"color":"#222"},"encoding":{"x":{"field":"k","type":"nominal"},"y":{"field":"hi","type":"quantitative"},"text":{"field":"sig"}}},
{"transform":[{"filter":"datum.sig!=='ns'"}],"mark":{"type":"text","baseline":"bottom","dy":3,"fontSize":14,"fontWeight":"bold","color":"#222"},"encoding":{"x":{"field":"k","type":"nominal"},"y":{"field":"hi","type":"quantitative"},"text":{"field":"sig"}}},
{"data":{"name":"k4"},"mark":{"type":"rule","color":"#555","clip":false},"encoding":{"x":{"field":"a","type":"nominal","bandPosition":0.5},"x2":{"field":"b","bandPosition":0.5},"y":{"field":"top","type":"quantitative"}}},
{"data":{"name":"k4"},"mark":{"type":"rule","color":"#555","clip":false},"encoding":{"x":{"field":"a","type":"nominal"},"y":{"field":"top","type":"quantitative"},"y2":{"field":"yl"}}},
{"data":{"name":"k4"},"mark":{"type":"rule","color":"#555","clip":false},"encoding":{"x":{"field":"b","type":"nominal"},"y":{"field":"top","type":"quantitative"},"y2":{"field":"yr"}}},
{"data":{"name":"k4"},"transform":[{"filter":"datum.lab==='ns'"}],"mark":{"type":"text","baseline":"bottom","dy":-1,"fontSize":12,"color":"#222"},"encoding":{"x":{"field":"m","type":"nominal","bandPosition":0},"y":{"field":"top","type":"quantitative"},"text":{"field":"lab"}}},
{"data":{"name":"k4"},"transform":[{"filter":"datum.lab!=='ns'"}],"mark":{"type":"text","baseline":"bottom","dy":3,"fontSize":14,"fontWeight":"bold","color":"#222"},"encoding":{"x":{"field":"m","type":"nominal","bandPosition":0},"y":{"field":"top","type":"quantitative"},"text":{"field":"lab"}}}
]}
]},
{"spacing":3,"resolve":{"scale":{"color":"independent"}},"hconcat":[
{"width":139,"height":120,"data":{"name":"b5"},"layer":[
{"mark":{"type":"bar"},"encoding":{"x":{"field":"k","type":"nominal","scale":{"domain":["GS87|CK","GS87|0 h","GS87|18 h","GS87|30 h","gap","XX|CK","XX|0 h","XX|18 h","XX|30 h"],"paddingInner":0.14,"paddingOuter":0.7},"axis":{"title":null,"labelExpr":"indexof(datum.value,'|')>0 ? split(datum.value,'|')[1] : ''","labelAngle":-50,"labelFontSize":12,"tickSize":3,"tickOpacity":{"condition":{"test":"datum.value==='gap'","value":0},"value":1},"labelPadding":1}},"y":{"field":"mean","type":"quantitative","scale":{"domain":[0,0.8],"nice":false},"axis":{"title":"JA-Phe content (ng/g)","values":[0,0.2,0.4,0.6,0.8],"tickCount":20,"labelExpr":"''+datum.value","labelOverlap":false,"tickSize":3,"labelPadding":1,"titlePadding":2}},"color":{"field":"g","type":"nominal","scale":{"domain":["GS87","XX"],"range":["#F88080","#4C9FF2"]},"legend":null}}},
{"mark":{"type":"rule","color":"#333","strokeWidth":1.1},"encoding":{"x":{"field":"k","type":"nominal"},"y":{"field":"lo","type":"quantitative"},"y2":{"field":"hi"}}},
{"mark":{"type":"tick","color":"#333","thickness":1.1,"size":7},"encoding":{"x":{"field":"k","type":"nominal"},"y":{"field":"lo","type":"quantitative"}}},
{"mark":{"type":"tick","color":"#333","thickness":1.1,"size":7},"encoding":{"x":{"field":"k","type":"nominal"},"y":{"field":"hi","type":"quantitative"}}},
{"mark":{"type":"circle","size":10,"color":"#555","opacity":1,"xOffset":-3},"encoding":{"x":{"field":"k","type":"nominal"},"y":{"field":"r1","type":"quantitative"}}},
{"mark":{"type":"circle","size":10,"color":"#555","opacity":1},"encoding":{"x":{"field":"k","type":"nominal"},"y":{"field":"r2","type":"quantitative"}}},
{"mark":{"type":"circle","size":10,"color":"#555","opacity":1,"xOffset":3},"encoding":{"x":{"field":"k","type":"nominal"},"y":{"field":"r3","type":"quantitative"}}},
{"transform":[{"filter":"datum.sig==='ns'"}],"mark":{"type":"text","baseline":"bottom","dy":-1,"fontSize":12,"color":"#222"},"encoding":{"x":{"field":"k","type":"nominal"},"y":{"field":"hi","type":"quantitative"},"text":{"field":"sig"}}},
{"transform":[{"filter":"datum.sig!=='ns'"}],"mark":{"type":"text","baseline":"bottom","dy":3,"fontSize":14,"fontWeight":"bold","color":"#222"},"encoding":{"x":{"field":"k","type":"nominal"},"y":{"field":"hi","type":"quantitative"},"text":{"field":"sig"}}},
{"data":{"name":"k5"},"mark":{"type":"rule","color":"#555","clip":false},"encoding":{"x":{"field":"a","type":"nominal","bandPosition":0.5},"x2":{"field":"b","bandPosition":0.5},"y":{"field":"top","type":"quantitative"}}},
{"data":{"name":"k5"},"mark":{"type":"rule","color":"#555","clip":false},"encoding":{"x":{"field":"a","type":"nominal"},"y":{"field":"top","type":"quantitative"},"y2":{"field":"yl"}}},
{"data":{"name":"k5"},"mark":{"type":"rule","color":"#555","clip":false},"encoding":{"x":{"field":"b","type":"nominal"},"y":{"field":"top","type":"quantitative"},"y2":{"field":"yr"}}},
{"data":{"name":"k5"},"transform":[{"filter":"datum.lab==='ns'"}],"mark":{"type":"text","baseline":"bottom","dy":-1,"fontSize":12,"color":"#222"},"encoding":{"x":{"field":"m","type":"nominal","bandPosition":0},"y":{"field":"top","type":"quantitative"},"text":{"field":"lab"}}},
{"data":{"name":"k5"},"transform":[{"filter":"datum.lab!=='ns'"}],"mark":{"type":"text","baseline":"bottom","dy":3,"fontSize":14,"fontWeight":"bold","color":"#222"},"encoding":{"x":{"field":"m","type":"nominal","bandPosition":0},"y":{"field":"top","type":"quantitative"},"text":{"field":"lab"}}}
]},
{"width":133,"height":120,"data":{"name":"b6"},"layer":[
{"mark":{"type":"bar"},"encoding":{"x":{"field":"k","type":"nominal","scale":{"domain":["GS87|CK","GS87|0 h","GS87|18 h","GS87|30 h","gap","XX|CK","XX|0 h","XX|18 h","XX|30 h"],"paddingInner":0.14,"paddingOuter":0.47},"axis":{"title":null,"labelExpr":"indexof(datum.value,'|')>0 ? split(datum.value,'|')[1] : ''","labelAngle":-50,"labelFontSize":12,"tickSize":3,"tickOpacity":{"condition":{"test":"datum.value==='gap'","value":0},"value":1},"labelPadding":1}},"y":{"field":"mean","type":"quantitative","scale":{"domain":[0,6],"nice":false},"axis":{"title":"JA-Val content (ng/g)","values":[0,1,2,3,4,5,6],"tickCount":20,"labelExpr":"''+datum.value","labelOverlap":false,"tickSize":3,"labelPadding":1,"titlePadding":2}},"color":{"field":"g","type":"nominal","scale":{"domain":["GS87","XX"],"range":["#F88080","#4C9FF2"]},"legend":null}}},
{"mark":{"type":"rule","color":"#333","strokeWidth":1.1},"encoding":{"x":{"field":"k","type":"nominal"},"y":{"field":"lo","type":"quantitative"},"y2":{"field":"hi"}}},
{"mark":{"type":"tick","color":"#333","thickness":1.1,"size":7},"encoding":{"x":{"field":"k","type":"nominal"},"y":{"field":"lo","type":"quantitative"}}},
{"mark":{"type":"tick","color":"#333","thickness":1.1,"size":7},"encoding":{"x":{"field":"k","type":"nominal"},"y":{"field":"hi","type":"quantitative"}}},
{"mark":{"type":"circle","size":10,"color":"#555","opacity":1,"xOffset":-3},"encoding":{"x":{"field":"k","type":"nominal"},"y":{"field":"r1","type":"quantitative"}}},
{"mark":{"type":"circle","size":10,"color":"#555","opacity":1},"encoding":{"x":{"field":"k","type":"nominal"},"y":{"field":"r2","type":"quantitative"}}},
{"mark":{"type":"circle","size":10,"color":"#555","opacity":1,"xOffset":3},"encoding":{"x":{"field":"k","type":"nominal"},"y":{"field":"r3","type":"quantitative"}}},
{"transform":[{"filter":"datum.sig==='ns'"}],"mark":{"type":"text","baseline":"bottom","dy":-1,"fontSize":12,"color":"#222"},"encoding":{"x":{"field":"k","type":"nominal"},"y":{"field":"hi","type":"quantitative"},"text":{"field":"sig"}}},
{"transform":[{"filter":"datum.sig!=='ns'"}],"mark":{"type":"text","baseline":"bottom","dy":3,"fontSize":14,"fontWeight":"bold","color":"#222"},"encoding":{"x":{"field":"k","type":"nominal"},"y":{"field":"hi","type":"quantitative"},"text":{"field":"sig"}}},
{"data":{"name":"k6"},"mark":{"type":"rule","color":"#555","clip":false},"encoding":{"x":{"field":"a","type":"nominal","bandPosition":0.5},"x2":{"field":"b","bandPosition":0.5},"y":{"field":"top","type":"quantitative"}}},
{"data":{"name":"k6"},"mark":{"type":"rule","color":"#555","clip":false},"encoding":{"x":{"field":"a","type":"nominal"},"y":{"field":"top","type":"quantitative"},"y2":{"field":"yl"}}},
{"data":{"name":"k6"},"mark":{"type":"rule","color":"#555","clip":false},"encoding":{"x":{"field":"b","type":"nominal"},"y":{"field":"top","type":"quantitative"},"y2":{"field":"yr"}}},
{"data":{"name":"k6"},"transform":[{"filter":"datum.lab==='ns'"}],"mark":{"type":"text","baseline":"bottom","dy":-1,"fontSize":12,"color":"#222"},"encoding":{"x":{"field":"m","type":"nominal","bandPosition":0},"y":{"field":"top","type":"quantitative"},"text":{"field":"lab"}}},
{"data":{"name":"k6"},"transform":[{"filter":"datum.lab!=='ns'"}],"mark":{"type":"text","baseline":"bottom","dy":3,"fontSize":14,"fontWeight":"bold","color":"#222"},"encoding":{"x":{"field":"m","type":"nominal","bandPosition":0},"y":{"field":"top","type":"quantitative"},"text":{"field":"lab"}}}
]},
{"width":138,"height":120,"data":{"name":"b7"},"layer":[
{"mark":{"type":"bar"},"encoding":{"x":{"field":"k","type":"nominal","scale":{"domain":["GS87|CK","GS87|0 h","GS87|18 h","GS87|30 h","gap","XX|CK","XX|0 h","XX|18 h","XX|30 h"],"paddingInner":0.14,"paddingOuter":0.78},"axis":{"title":null,"labelExpr":"indexof(datum.value,'|')>0 ? split(datum.value,'|')[1] : ''","labelAngle":-50,"labelFontSize":12,"tickSize":3,"tickOpacity":{"condition":{"test":"datum.value==='gap'","value":0},"value":1},"labelPadding":1}},"y":{"field":"mean","type":"quantitative","scale":{"domain":[0,16000],"nice":false},"axis":{"title":"SAG content (ng/g)","values":[0,4000,8000,12000,16000],"tickCount":20,"labelExpr":"''+datum.value","labelOverlap":false,"tickSize":3,"labelPadding":1,"titlePadding":2}},"color":{"field":"g","type":"nominal","scale":{"domain":["GS87","XX"],"range":["#F88080","#4C9FF2"]},"legend":null}}},
{"mark":{"type":"rule","color":"#333","strokeWidth":1.1},"encoding":{"x":{"field":"k","type":"nominal"},"y":{"field":"lo","type":"quantitative"},"y2":{"field":"hi"}}},
{"mark":{"type":"tick","color":"#333","thickness":1.1,"size":7},"encoding":{"x":{"field":"k","type":"nominal"},"y":{"field":"lo","type":"quantitative"}}},
{"mark":{"type":"tick","color":"#333","thickness":1.1,"size":7},"encoding":{"x":{"field":"k","type":"nominal"},"y":{"field":"hi","type":"quantitative"}}},
{"mark":{"type":"circle","size":10,"color":"#555","opacity":1,"xOffset":-3},"encoding":{"x":{"field":"k","type":"nominal"},"y":{"field":"r1","type":"quantitative"}}},
{"mark":{"type":"circle","size":10,"color":"#555","opacity":1},"encoding":{"x":{"field":"k","type":"nominal"},"y":{"field":"r2","type":"quantitative"}}},
{"mark":{"type":"circle","size":10,"color":"#555","opacity":1,"xOffset":3},"encoding":{"x":{"field":"k","type":"nominal"},"y":{"field":"r3","type":"quantitative"}}},
{"transform":[{"filter":"datum.sig==='ns'"}],"mark":{"type":"text","baseline":"bottom","dy":-1,"fontSize":12,"color":"#222"},"encoding":{"x":{"field":"k","type":"nominal"},"y":{"field":"hi","type":"quantitative"},"text":{"field":"sig"}}},
{"transform":[{"filter":"datum.sig!=='ns'"}],"mark":{"type":"text","baseline":"bottom","dy":3,"fontSize":14,"fontWeight":"bold","color":"#222"},"encoding":{"x":{"field":"k","type":"nominal"},"y":{"field":"hi","type":"quantitative"},"text":{"field":"sig"}}},
{"data":{"name":"k7"},"mark":{"type":"rule","color":"#555","clip":false},"encoding":{"x":{"field":"a","type":"nominal","bandPosition":0.5},"x2":{"field":"b","bandPosition":0.5},"y":{"field":"top","type":"quantitative"}}},
{"data":{"name":"k7"},"mark":{"type":"rule","color":"#555","clip":false},"encoding":{"x":{"field":"a","type":"nominal"},"y":{"field":"top","type":"quantitative"},"y2":{"field":"yl"}}},
{"data":{"name":"k7"},"mark":{"type":"rule","color":"#555","clip":false},"encoding":{"x":{"field":"b","type":"nominal"},"y":{"field":"top","type":"quantitative"},"y2":{"field":"yr"}}},
{"data":{"name":"k7"},"transform":[{"filter":"datum.lab==='ns'"}],"mark":{"type":"text","baseline":"bottom","dy":-1,"fontSize":12,"color":"#222"},"encoding":{"x":{"field":"m","type":"nominal","bandPosition":0},"y":{"field":"top","type":"quantitative"},"text":{"field":"lab"}}},
{"data":{"name":"k7"},"transform":[{"filter":"datum.lab!=='ns'"}],"mark":{"type":"text","baseline":"bottom","dy":3,"fontSize":14,"fontWeight":"bold","color":"#222"},"encoding":{"x":{"field":"m","type":"nominal","bandPosition":0},"y":{"field":"top","type":"quantitative"},"text":{"field":"lab"}}}
]},
{"width":132,"height":120,"data":{"name":"b8"},"layer":[
{"mark":{"type":"bar"},"encoding":{"x":{"field":"k","type":"nominal","scale":{"domain":["GS87|CK","GS87|0 h","GS87|18 h","GS87|30 h","gap","XX|CK","XX|0 h","XX|18 h","XX|30 h"],"paddingInner":0.14,"paddingOuter":0.42},"axis":{"title":null,"labelExpr":"indexof(datum.value,'|')>0 ? split(datum.value,'|')[1] : ''","labelAngle":-50,"labelFontSize":12,"tickSize":3,"tickOpacity":{"condition":{"test":"datum.value==='gap'","value":0},"value":1},"labelPadding":1}},"y":{"field":"mean","type":"quantitative","scale":{"domain":[0,900],"nice":false},"axis":{"title":"SA content (ng/g)","values":[0,150,300,450,600,750,900],"tickCount":20,"labelExpr":"''+datum.value","labelOverlap":false,"tickSize":3,"labelPadding":1,"titlePadding":2}},"color":{"field":"g","type":"nominal","scale":{"domain":["GS87","XX"],"range":["#F88080","#4C9FF2"]},"legend":null}}},
{"mark":{"type":"rule","color":"#333","strokeWidth":1.1},"encoding":{"x":{"field":"k","type":"nominal"},"y":{"field":"lo","type":"quantitative"},"y2":{"field":"hi"}}},
{"mark":{"type":"tick","color":"#333","thickness":1.1,"size":7},"encoding":{"x":{"field":"k","type":"nominal"},"y":{"field":"lo","type":"quantitative"}}},
{"mark":{"type":"tick","color":"#333","thickness":1.1,"size":7},"encoding":{"x":{"field":"k","type":"nominal"},"y":{"field":"hi","type":"quantitative"}}},
{"mark":{"type":"circle","size":10,"color":"#555","opacity":1,"xOffset":-3},"encoding":{"x":{"field":"k","type":"nominal"},"y":{"field":"r1","type":"quantitative"}}},
{"mark":{"type":"circle","size":10,"color":"#555","opacity":1},"encoding":{"x":{"field":"k","type":"nominal"},"y":{"field":"r2","type":"quantitative"}}},
{"mark":{"type":"circle","size":10,"color":"#555","opacity":1,"xOffset":3},"encoding":{"x":{"field":"k","type":"nominal"},"y":{"field":"r3","type":"quantitative"}}},
{"transform":[{"filter":"datum.sig==='ns'"}],"mark":{"type":"text","baseline":"bottom","dy":-1,"fontSize":12,"color":"#222"},"encoding":{"x":{"field":"k","type":"nominal"},"y":{"field":"hi","type":"quantitative"},"text":{"field":"sig"}}},
{"transform":[{"filter":"datum.sig!=='ns'"}],"mark":{"type":"text","baseline":"bottom","dy":3,"fontSize":14,"fontWeight":"bold","color":"#222"},"encoding":{"x":{"field":"k","type":"nominal"},"y":{"field":"hi","type":"quantitative"},"text":{"field":"sig"}}},
{"data":{"name":"k8"},"mark":{"type":"rule","color":"#555","clip":false},"encoding":{"x":{"field":"a","type":"nominal","bandPosition":0.5},"x2":{"field":"b","bandPosition":0.5},"y":{"field":"top","type":"quantitative"}}},
{"data":{"name":"k8"},"mark":{"type":"rule","color":"#555","clip":false},"encoding":{"x":{"field":"a","type":"nominal"},"y":{"field":"top","type":"quantitative"},"y2":{"field":"yl"}}},
{"data":{"name":"k8"},"mark":{"type":"rule","color":"#555","clip":false},"encoding":{"x":{"field":"b","type":"nominal"},"y":{"field":"top","type":"quantitative"},"y2":{"field":"yr"}}},
{"data":{"name":"k8"},"transform":[{"filter":"datum.lab==='ns'"}],"mark":{"type":"text","baseline":"bottom","dy":-1,"fontSize":12,"color":"#222"},"encoding":{"x":{"field":"m","type":"nominal","bandPosition":0},"y":{"field":"top","type":"quantitative"},"text":{"field":"lab"}}},
{"data":{"name":"k8"},"transform":[{"filter":"datum.lab!=='ns'"}],"mark":{"type":"text","baseline":"bottom","dy":3,"fontSize":14,"fontWeight":"bold","color":"#222"},"encoding":{"x":{"field":"m","type":"nominal","bandPosition":0},"y":{"field":"top","type":"quantitative"},"text":{"field":"lab"}}}
]}
]}
]},
{"spacing":90,"resolve":{"scale":{"color":"independent"}},"hconcat":[
{"title":{"text":"B"},"spacing":6,"vconcat":[
{"spacing":5,"hconcat":[
{"width":110,"height":166,"data":{"name":"genes"},"transform":[{"filter":"datum.p==='JA'"},{"fold":["CK–GS87","T0–GS87","T18–GS87","T30–GS87"],"as":["c","v"]}],"mark":{"type":"rect","stroke":"#eeeeee","strokeWidth":0.6},"encoding":{"x":{"field":"c","type":"nominal","scale":{"domain":["CK–GS87","T0–GS87","T18–GS87","T30–GS87"]},"axis":null},"y":{"field":"id","type":"nominal","scale":{"domain":["Unigene0003157","Unigene0065373","Unigene0126619","Unigene0107774","Unigene0097723","Unigene0045201","Unigene0006281","Unigene0070901","Unigene0000306","Unigene0016054","Unigene0045428","Unigene0071043","Unigene0129065","Unigene0008905"]},"axis":{"title":null,"ticks":false,"domain":false,"labelFontSize":9.5,"labelPadding":3}},"color":{"field":"v","type":"quantitative","scale":{"domain":[-2.1,0.52,3.15],"range":["#000080","#ffffff","#CD2626"],"interpolate":"rgb"},"legend":{"title":null,"orient":"right","direction":"vertical","gradientLength":97,"gradientThickness":10,"values":[-2,-1,0,1,2,3],"labelFontSize":9.5,"offset":-22,"labelOffset":3,"gradientStrokeWidth":0}}}},
{"width":110,"height":166,"data":{"name":"genes"},"layer":[
{"transform":[{"filter":"datum.p==='JA'"},{"fold":["CK–XX","T0–XX","T18–XX","T30–XX"],"as":["c","v"]}],"mark":{"type":"rect","stroke":"#eeeeee","strokeWidth":0.6},"encoding":{"x":{"field":"c","type":"nominal","scale":{"domain":["CK–XX","T0–XX","T18–XX","T30–XX"]},"axis":null},"y":{"field":"id","type":"nominal","scale":{"domain":["Unigene0003157","Unigene0065373","Unigene0126619","Unigene0107774","Unigene0097723","Unigene0045201","Unigene0006281","Unigene0070901","Unigene0000306","Unigene0016054","Unigene0045428","Unigene0071043","Unigene0129065","Unigene0008905"]},"axis":null},"color":{"field":"v","type":"quantitative","scale":{"domain":[-2.1,0.52,3.15],"range":["#000080","#ffffff","#CD2626"],"interpolate":"rgb"},"legend":{"title":null,"orient":"right","direction":"vertical","gradientLength":97,"gradientThickness":10,"values":[-2,-1,0,1,2,3],"labelFontSize":9.5,"offset":-22,"labelOffset":3,"gradientStrokeWidth":0}}}},
{"transform":[{"filter":"datum.p==='JA'"}],"mark":{"type":"text","align":"left","dx":3,"fontStyle":"italic","fontSize":9.5,"color":"#222"},"encoding":{"x":{"datum":"T30–XX","type":"nominal","bandPosition":1},"y":{"field":"id","type":"nominal"},"text":{"field":"gene"}}},
{"data":{"values":[{}]},"mark":{"type":"rule","color":"#444","xOffset":40},"encoding":{"x":{"datum":"T30–XX","type":"nominal","bandPosition":1},"y":{"datum":"Unigene0003157","type":"nominal","bandPosition":0.1},"y2":{"datum":"Unigene0008905","bandPosition":0.9}}},
{"data":{"values":[{}]},"mark":{"type":"text","align":"left","baseline":"middle","dx":47,"fontSize":11,"color":"#222"},"encoding":{"x":{"datum":"T30–XX","type":"nominal","bandPosition":1},"y":{"datum":"Unigene0006281","type":"nominal","bandPosition":1},"text":{"value":"JA"}}}
]}
]},
{"spacing":5,"hconcat":[
{"width":110,"height":154,"data":{"name":"genes"},"transform":[{"filter":"datum.p==='SA'"},{"fold":["CK–GS87","T0–GS87","T18–GS87","T30–GS87"],"as":["c","v"]}],"mark":{"type":"rect","stroke":"#eeeeee","strokeWidth":0.6},"encoding":{"x":{"field":"c","type":"nominal","scale":{"domain":["CK–GS87","T0–GS87","T18–GS87","T30–GS87"]},"axis":{"title":null,"labelAngle":-45,"ticks":false,"domain":false,"labelFontSize":9.5,"labelPadding":3}},"y":{"field":"id","type":"nominal","scale":{"domain":["Unigene0064941","Unigene0003318","Unigene0047800","Unigene0009467","Unigene0064454","Unigene0073812","Unigene0068837","Unigene0000932","Unigene0064677","Unigene0093731","Unigene0100848","Unigene0070569","Unigene0100850"]},"axis":{"title":null,"ticks":false,"domain":false,"labelFontSize":9.5,"labelPadding":3}},"color":{"field":"v","type":"quantitative","scale":{"domain":[-2.1,0.52,3.15],"range":["#000080","#ffffff","#CD2626"],"interpolate":"rgb"},"legend":{"title":null,"orient":"right","direction":"vertical","gradientLength":97,"gradientThickness":10,"values":[-2,-1,0,1,2,3],"labelFontSize":9.5,"offset":-22,"labelOffset":3,"gradientStrokeWidth":0}}}},
{"width":110,"height":154,"data":{"name":"genes"},"layer":[
{"transform":[{"filter":"datum.p==='SA'"},{"fold":["CK–XX","T0–XX","T18–XX","T30–XX"],"as":["c","v"]}],"mark":{"type":"rect","stroke":"#eeeeee","strokeWidth":0.6},"encoding":{"x":{"field":"c","type":"nominal","scale":{"domain":["CK–XX","T0–XX","T18–XX","T30–XX"]},"axis":{"title":null,"labelAngle":-45,"ticks":false,"domain":false,"labelFontSize":9.5,"labelPadding":3}},"y":{"field":"id","type":"nominal","scale":{"domain":["Unigene0064941","Unigene0003318","Unigene0047800","Unigene0009467","Unigene0064454","Unigene0073812","Unigene0068837","Unigene0000932","Unigene0064677","Unigene0093731","Unigene0100848","Unigene0070569","Unigene0100850"]},"axis":null},"color":{"field":"v","type":"quantitative","scale":{"domain":[-2.1,0.52,3.15],"range":["#000080","#ffffff","#CD2626"],"interpolate":"rgb"},"legend":{"title":null,"orient":"right","direction":"vertical","gradientLength":97,"gradientThickness":10,"values":[-2,-1,0,1,2,3],"labelFontSize":9.5,"offset":-22,"labelOffset":3,"gradientStrokeWidth":0}}}},
{"transform":[{"filter":"datum.p==='SA'"}],"mark":{"type":"text","align":"left","dx":3,"fontStyle":"italic","fontSize":9.5,"color":"#222"},"encoding":{"x":{"datum":"T30–XX","type":"nominal","bandPosition":1},"y":{"field":"id","type":"nominal"},"text":{"field":"gene"}}},
{"data":{"values":[{}]},"mark":{"type":"rule","color":"#444","xOffset":40},"encoding":{"x":{"datum":"T30–XX","type":"nominal","bandPosition":1},"y":{"datum":"Unigene0064941","type":"nominal","bandPosition":0.1},"y2":{"datum":"Unigene0100850","bandPosition":0.9}}},
{"data":{"values":[{}]},"mark":{"type":"text","align":"left","baseline":"middle","dx":47,"fontSize":11,"color":"#222"},"encoding":{"x":{"datum":"T30–XX","type":"nominal","bandPosition":1},"y":{"datum":"Unigene0068837","type":"nominal","bandPosition":0.5},"text":{"value":"SA"}}}
]}
]}
]},
{"title":{"text":"C"},"spacing":6,"vconcat":[
{"width":109,"height":166,"data":{"name":"genes"},"layer":[
{"transform":[{"filter":"datum.p==='JA'"},{"fold":["CK–XX vs CK–GS87","T0–XX vs T0–GS87","T18–XX vs T18–GS87","T30–XX vs T30–GS87"],"as":["c","cat"]}],"mark":{"type":"rect","stroke":"#dddddd","strokeWidth":0.8},"encoding":{"x":{"field":"c","type":"nominal","scale":{"domain":["CK–XX vs CK–GS87","T0–XX vs T0–GS87","T18–XX vs T18–GS87","T30–XX vs T30–GS87"]},"axis":null},"y":{"field":"id","type":"nominal","scale":{"domain":["Unigene0003157","Unigene0065373","Unigene0126619","Unigene0107774","Unigene0097723","Unigene0045201","Unigene0006281","Unigene0070901","Unigene0000306","Unigene0016054","Unigene0045428","Unigene0071043","Unigene0129065","Unigene0008905"]},"axis":{"title":null,"ticks":false,"domain":false,"labelFontSize":9.5,"labelPadding":5}},"color":{"field":"cat","type":"nominal","scale":{"domain":["sig. up","sig. down","insig. up","insig. down"],"range":["#D33333","#3838A6","#FCEBEB","#EEEEF6"]},"legend":{"title":null,"orient":"right","symbolType":"square","symbolSize":156,"labelFontSize":10,"rowPadding":2,"offset":4,"labelOffset":6,"symbolStrokeWidth":0}}}},
{"transform":[{"filter":"datum.p==='JA'"}],"mark":{"type":"text","align":"left","dx":5,"fontStyle":"italic","fontSize":9.5,"color":"#222"},"encoding":{"x":{"datum":"T30–XX vs T30–GS87","type":"nominal","bandPosition":1},"y":{"field":"id","type":"nominal"},"text":{"field":"gene"}}},
{"data":{"values":[{}]},"mark":{"type":"rule","color":"#444","xOffset":43},"encoding":{"x":{"datum":"T30–XX vs T30–GS87","type":"nominal","bandPosition":1},"y":{"datum":"Unigene0003157","type":"nominal","bandPosition":0.1},"y2":{"datum":"Unigene0008905","bandPosition":0.9}}},
{"data":{"values":[{}]},"mark":{"type":"text","align":"left","baseline":"middle","dx":50,"fontSize":11,"color":"#222"},"encoding":{"x":{"datum":"T30–XX vs T30–GS87","type":"nominal","bandPosition":1},"y":{"datum":"Unigene0006281","type":"nominal","bandPosition":1},"text":{"value":"JA"}}}
]},
{"width":109,"height":154,"data":{"name":"genes"},"layer":[
{"transform":[{"filter":"datum.p==='SA'"},{"fold":["CK–XX vs CK–GS87","T0–XX vs T0–GS87","T18–XX vs T18–GS87","T30–XX vs T30–GS87"],"as":["c","cat"]}],"mark":{"type":"rect","stroke":"#dddddd","strokeWidth":0.8},"encoding":{"x":{"field":"c","type":"nominal","scale":{"domain":["CK–XX vs CK–GS87","T0–XX vs T0–GS87","T18–XX vs T18–GS87","T30–XX vs T30–GS87"]},"axis":{"title":null,"labelAngle":-45,"ticks":false,"domain":false,"labelFontSize":9,"labelPadding":1}},"y":{"field":"id","type":"nominal","scale":{"domain":["Unigene0064941","Unigene0003318","Unigene0047800","Unigene0009467","Unigene0064454","Unigene0073812","Unigene0068837","Unigene0000932","Unigene0064677","Unigene0093731","Unigene0100848","Unigene0070569","Unigene0100850"]},"axis":{"title":null,"ticks":false,"domain":false,"labelFontSize":9.5,"labelPadding":5}},"color":{"field":"cat","type":"nominal","scale":{"domain":["sig. up","sig. down","insig. up","insig. down"],"range":["#D33333","#3838A6","#FCEBEB","#EEEEF6"]},"legend":{"title":null,"orient":"right","symbolType":"square","symbolSize":156,"labelFontSize":10,"rowPadding":2,"offset":4,"labelOffset":6,"symbolStrokeWidth":0}}}},
{"transform":[{"filter":"datum.p==='SA'"}],"mark":{"type":"text","align":"left","dx":5,"fontStyle":"italic","fontSize":9.5,"color":"#222"},"encoding":{"x":{"datum":"T30–XX vs T30–GS87","type":"nominal","bandPosition":1},"y":{"field":"id","type":"nominal"},"text":{"field":"gene"}}},
{"data":{"values":[{}]},"mark":{"type":"rule","color":"#444","xOffset":43},"encoding":{"x":{"datum":"T30–XX vs T30–GS87","type":"nominal","bandPosition":1},"y":{"datum":"Unigene0064941","type":"nominal","bandPosition":0.1},"y2":{"datum":"Unigene0100850","bandPosition":0.9}}},
{"data":{"values":[{}]},"mark":{"type":"text","align":"left","baseline":"middle","dx":50,"fontSize":11,"color":"#222"},"encoding":{"x":{"datum":"T30–XX vs T30–GS87","type":"nominal","bandPosition":1},"y":{"datum":"Unigene0068837","type":"nominal","bandPosition":0.5},"text":{"value":"SA"}}}
]}
]}
]}
]
}
